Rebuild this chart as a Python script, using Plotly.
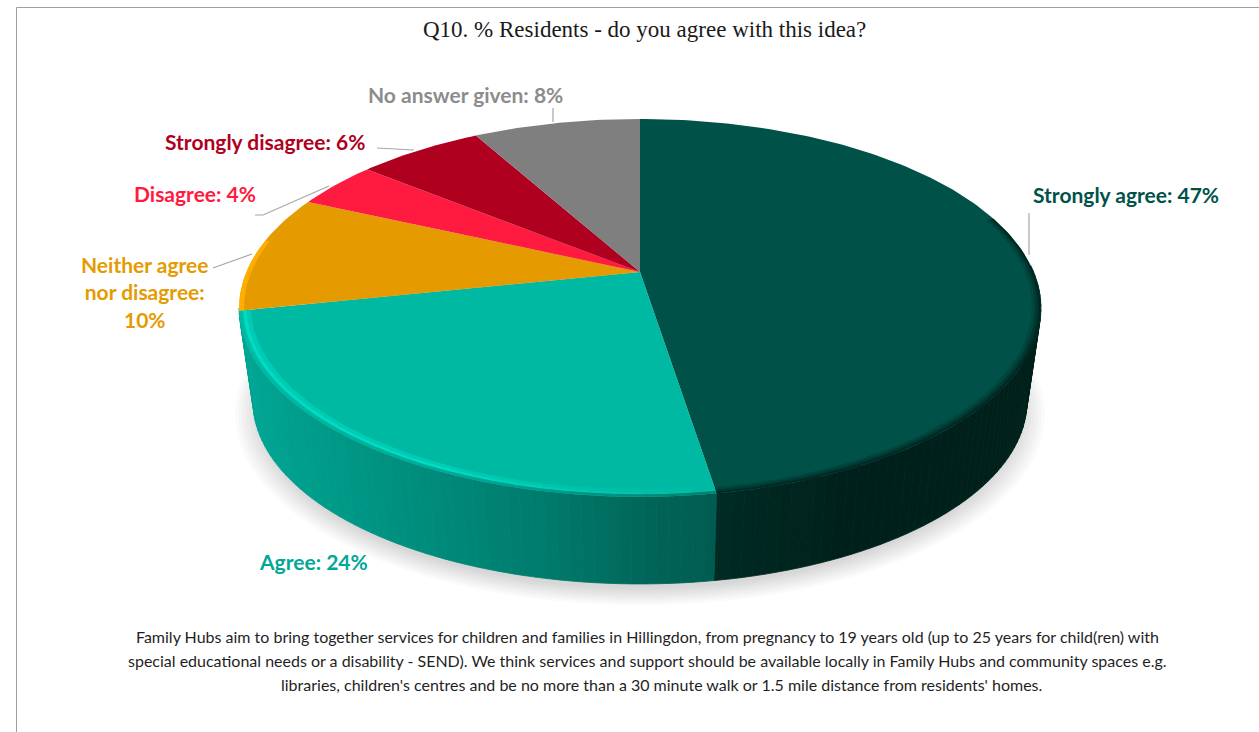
import numpy as np
import plotly.graph_objects as go

# Survey responses
categories = ["Strongly agree", "Agree", "Neither agree<br>nor disagree:<br>", "Disagree", "Strongly disagree", "No answer given"]
values = [47, 24, 10, 4, 6, 8]
face_colors = ["#005249", "#00B9A3", "#E59B00", "#FF1A40", "#B00020", "#7F7F7F"]
label_colors = ["#005249", "#00A896", "#E59B00", "#FF1A40", "#B00020", "#8C8C8C"]
title_text = "Q10. % Residents - do you agree with this idea?"
footer_lines = [
    "Family Hubs aim to bring together services for children and families in Hillingdon, from pregnancy to 19 years old (up to 25 years for child(ren) with",
    "special educational needs or a disability - SEND). We think services and support should be available locally in Family Hubs and community spaces e.g.",
    "libraries, children's centres and be no more than a 30 minute walk or 1.5 mile distance from residents' homes.",
]

W, H = 1259, 732
FONT_LABEL = "Lato"
FONT_FOOT = "Lato"
FONT_TITLE = "Liberation Serif"

# Perspective disc: a unit circle seen from above, apex off the ellipse centre
CX, CY, A, B, P = 640.0, 272.0, 393.6, 182.1, 0.19
DEPTH, BASE_SCALE = 95.0, 0.965


def rim(theta, r=1.0, base=False):
    t = np.radians(np.asarray(theta, dtype=float))
    u, v = r * np.sin(t), r * np.cos(t)
    den = 1 + P * v
    s = BASE_SCALE if base else 1.0
    return CX + s * A * u / den, CY + (DEPTH if base else 0.0) - s * B * v / den


def hex_rgb(c):
    return np.array([int(c[i:i + 2], 16) for i in (1, 3, 5)], dtype=float)


def mix(c1, c2, t):
    m = hex_rgb(c1) * (1 - t) + hex_rgb(c2) * t
    return "#%02x%02x%02x" % tuple(int(round(x)) for x in m)


fig = go.Figure()


def poly(xs, ys, color, edge=True):
    fig.add_trace(go.Scatter(
        x=list(xs), y=list(ys), mode="lines", fill="toself", fillcolor=color,
        line=dict(color=color, width=0.8 if edge else 0),
        hoverinfo="skip", showlegend=False,
    ))


# Slice boundaries, clockwise from twelve o'clock
total = sum(values)
edges = np.concatenate([[0.0], np.cumsum(values) / total * 360.0])

# Soft ground shadow under the disc
circle = np.linspace(0, 360, 181)
for k, scale in enumerate(np.linspace(1.045, 0.985, 8)):
    sx, sy = rim(circle, scale, base=True)
    fig.add_trace(go.Scatter(
        x=sx, y=sy + 9, mode="lines", fill="toself", fillcolor="rgba(0,0,0,0.018)",
        line=dict(width=0), hoverinfo="skip", showlegend=False,
    ))

# Side wall, one thin strip per step, shaded by horizontal position
agree_shade_x = [245, 400, 550, 650, 730]
agree_shade = [hex_rgb(c) for c in ["#00A593", "#008F7E", "#007A6B", "#006558", "#005A4E"]]


def wall_color(theta):
    x, _ = rim(theta)
    if theta <= edges[1]:
        return mix("#002B25", "#00211B", min(1.0, max(0.0, (x - 720) / 120)))
    rgb = [np.interp(x, agree_shade_x, [c[i] for c in agree_shade]) for i in range(3)]
    return "#%02x%02x%02x" % tuple(int(round(c)) for c in rgb)


steps = np.arange(88.0, edges[2] + 1.5, 1.5)
steps = np.unique(np.concatenate([steps, [edges[1]]]))
for t0, t1 in zip(steps[:-1], steps[1:]):
    tx0, ty0 = rim(t0)
    tx1, ty1 = rim(t1)
    bx0, by0 = rim(t0, base=True)
    bx1, by1 = rim(t1, base=True)
    poly([tx0, tx1, bx1, bx0, tx0], [ty0, ty1, by1, by0, ty0], wall_color((t0 + t1) / 2))

# Top faces
for i, color in enumerate(face_colors):
    arc = np.linspace(edges[i], edges[i + 1], max(8, int(values[i] * 4)))
    ax, ay = rim(arc)
    poly(np.r_[CX, ax, CX], np.r_[CY, ay, CY], color, edge=False)


def band(t0, t1, r0, r1, color):
    arc = np.linspace(t0, t1, max(3, int((t1 - t0) / 1.5) + 1))
    ox, oy = rim(arc, r1)
    ix, iy = rim(arc[::-1], r0)
    poly(np.r_[ox, ix, ox[0]], np.r_[oy, iy, oy[0]], color, edge=False)


# Bevel on the rim of the dark slice
for r0, r1, t in [(0.978, 0.986, 0.25), (0.986, 0.993, 0.55), (0.993, 1.0, 0.85)]:
    band(72, edges[1], r0, r1, mix(face_colors[0], "#00211B", t))

# Highlighted bevel along the front of the light slice
pieces = np.arange(edges[1], edges[2] + 0.01, 3.0)
pieces = np.r_[pieces[:-1], edges[2]]
for t0, t1 in zip(pieces[:-1], pieces[1:]):
    mid = (t0 + t1) / 2
    glow = np.clip((mid - edges[1]) / 35.0, 0.0, 1.0)
    hi = mix(face_colors[1], "#00DCC3", glow)
    band(t0, t1, 0.972, 0.982, mix(face_colors[1], hi, 0.55))
    band(t0, t1, 0.982, 0.991, hi)
    band(t0, t1, 0.991, 1.0, mix(hi, wall_color(mid), 0.6))

# Lighter lip on the orange slice where it meets the outline
band(edges[2], edges[2] + 22, 0.988, 1.0, "#FFAE00")

# Data labels
labels = [f"{c}{'' if c.endswith('<br>') else ': '}{v}%" for c, v in zip(categories, values)]
label_spots = [
    (1031, 194, "left"),
    (313, 561, "center"),
    (144, 292, "center"),
    (194.5, 193, "center"),
    (264.5, 141, "center"),
    (465.5, 94, "center"),
]
annotations = []
for text, color, (lx, ly, anchor) in zip(labels, label_colors, label_spots):
    annotations.append(dict(
        x=lx, y=ly, xref="x", yref="y", text=f"<b>{text}</b>", showarrow=False,
        xanchor=anchor, yanchor="middle", align="center",
        font=dict(family=FONT_LABEL, size=21, color=color),
    ))

annotations.append(dict(
    x=644.5, y=29, xref="x", yref="y", text=title_text, showarrow=False,
    xanchor="center", yanchor="middle",
    font=dict(family=FONT_TITLE, size=23, color="#1A1A1A"),
))
for text, fx, fy in zip(footer_lines, [647.5, 647.5, 661], [636, 660, 684]):
    annotations.append(dict(
        x=fx, y=fy, xref="x", yref="y", text=text, showarrow=False,
        xanchor="center", yanchor="middle",
        font=dict(family=FONT_FOOT, size=16, color="#1F1F1F"),
    ))

# Leader lines and chart frame
leaders = [
    [(1029, 213), (1029, 255)],
    [(213, 268), (252, 254)],
    [(255, 215), (263, 215), (329, 186)],
    [(377, 148), (414, 150)],
    [(553, 108), (553, 122)],
]
shapes = []
for path in leaders:
    d = "M " + " L ".join(f"{x} {y}" for x, y in path)
    shapes.append(dict(type="path", path=d, xref="x", yref="y",
                       line=dict(color="#A6A6A6", width=1.2)))
shapes.append(dict(type="path", path=f"M 16.5 {H} L 16.5 7.5 L {W} 7.5", xref="x", yref="y",
                   line=dict(color="#A0A0A0", width=1)))

fig.update_layout(
    width=W, height=H, margin=dict(l=0, r=0, t=0, b=0),
    paper_bgcolor="white", plot_bgcolor="white", showlegend=False,
    xaxis=dict(range=[0, W], visible=False, fixedrange=True),
    yaxis=dict(range=[H, 0], visible=False, fixedrange=True),
    annotations=annotations, shapes=shapes,
)
fig.write_html("out.html", config={"displayModeBar": False})
